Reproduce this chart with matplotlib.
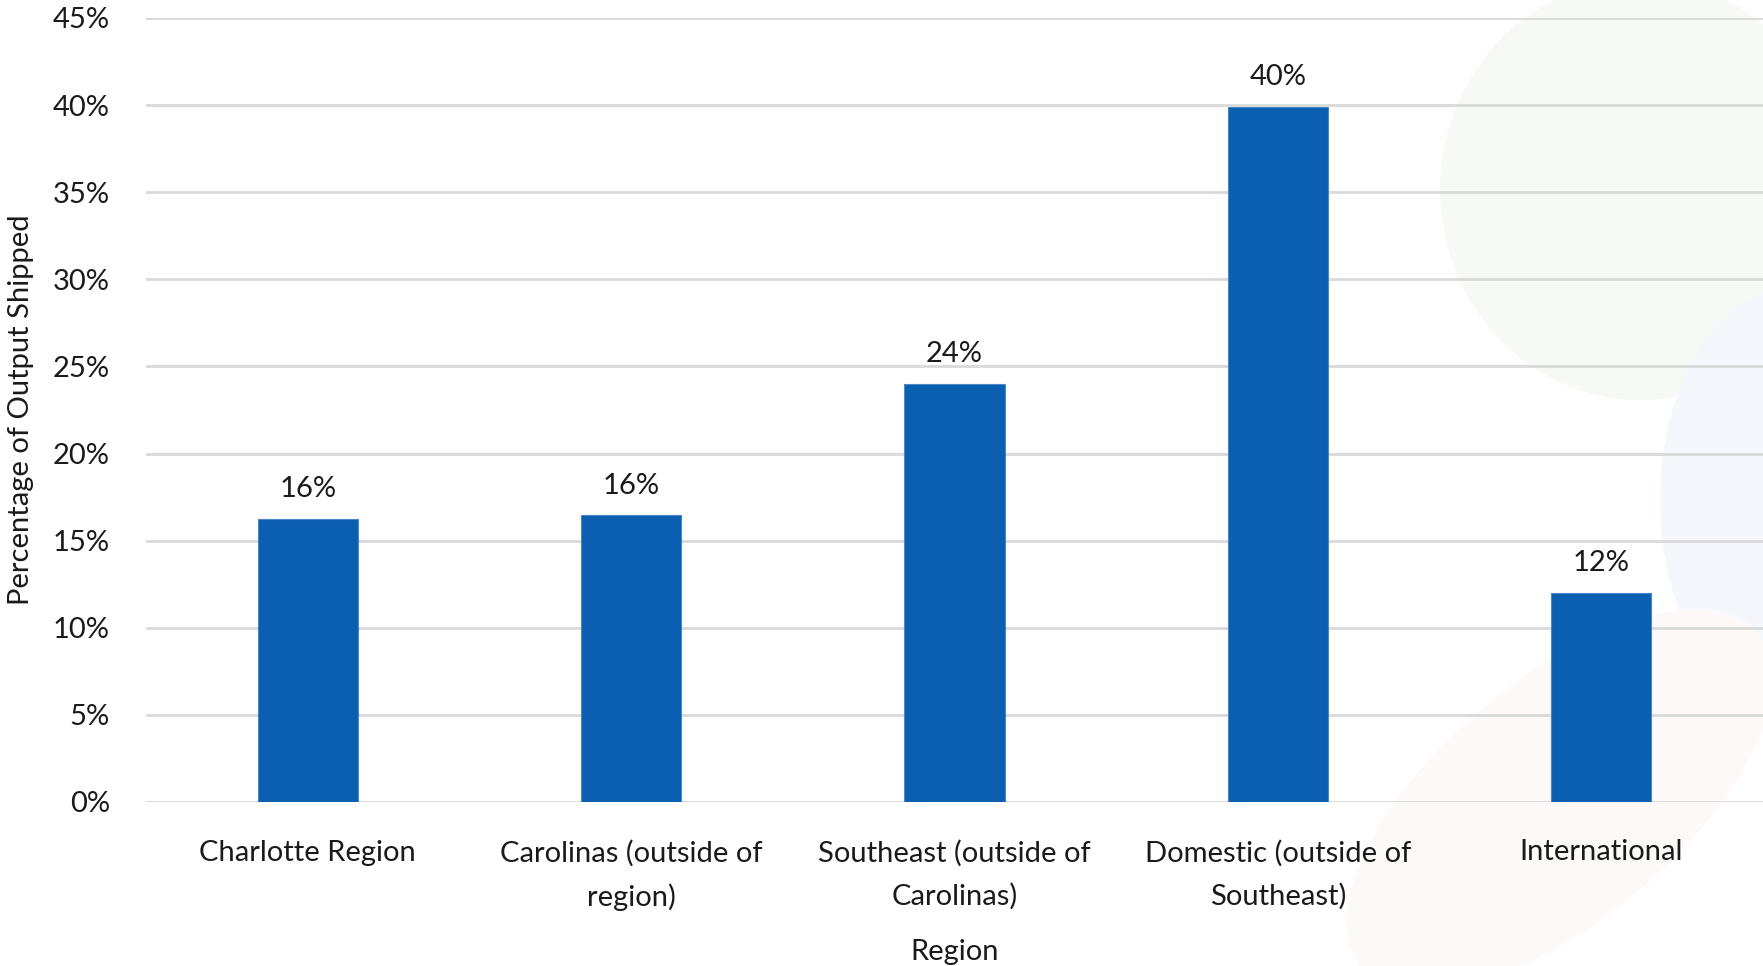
import matplotlib
matplotlib.use("Agg")
import matplotlib.pyplot as plt
from matplotlib.ticker import PercentFormatter, MultipleLocator
from matplotlib.patches import Ellipse

categories = ["Charlotte Region", "Carolinas (outside of\nregion)", "Southeast (outside of\nCarolinas)",
              "Domestic (outside of\nSoutheast)", "International"]
values = [16.25, 16.45, 24.0, 39.9, 12.0]
labels = ["16%", "16%", "24%", "40%", "12%"]

plt.rcParams['font.family'] = ['Lato', 'DejaVu Sans']
W, H = 1763, 966
fig = plt.figure(figsize=(W / 100, H / 100), dpi=100)

# faint background watermark shapes
bg = fig.add_axes([0, 0, 1, 1], zorder=-10)
bg.set_xlim(0, W); bg.set_ylim(H, 0); bg.axis('off')
bg.add_patch(Ellipse((1640, 190), 400, 420, color='#f7f9f7', lw=0))
bg.add_patch(Ellipse((1790, 500), 260, 420, color='#f4f7fb', lw=0))
bg.add_patch(Ellipse((1560, 800), 520, 240, angle=-40, color='#fdf9f9', lw=0))

ax = fig.add_axes([146 / W, 1 - 802 / H, 1 - 146 / W, (802 - 18) / H])
ax.patch.set_alpha(0)
x = range(len(categories))
ax.bar(x, values, width=0.31, color='#0B5FB0', edgecolor='#4a86c8', linewidth=0.8, zorder=3)
for xi, v, lab in zip(x, values, labels):
    ax.annotate(lab, (xi, v), xytext=(0, 12), textcoords='offset points', ha='center', va='bottom',
                fontsize=21, color='#1a1a1a')

ax.set_xlim(-0.5, 4.5)
ax.set_ylim(0, 45)
ax.yaxis.set_major_locator(MultipleLocator(5))
ax.yaxis.set_major_formatter(PercentFormatter(decimals=0))
ax.grid(axis='y', color='#d9d9d9', linewidth=2, zorder=0)
for s in ax.spines.values():
    s.set_visible(False)
ax.tick_params(axis='both', length=0, labelsize=21, colors='#1a1a1a')
ax.tick_params(axis='y', pad=26)
ax.tick_params(axis='x', pad=27)
ax.set_xticks(list(x))
ax.set_xticklabels(categories, linespacing=1.75)
ax.set_xlabel("Region", fontsize=21, color='#1a1a1a', labelpad=20)
ax.set_ylabel("Percentage of Output Shipped", fontsize=21, color='#1a1a1a')
ax.yaxis.set_label_coords((34 - 146) / (W - 146), 0.5)

fig.savefig("out.png", dpi=100)
